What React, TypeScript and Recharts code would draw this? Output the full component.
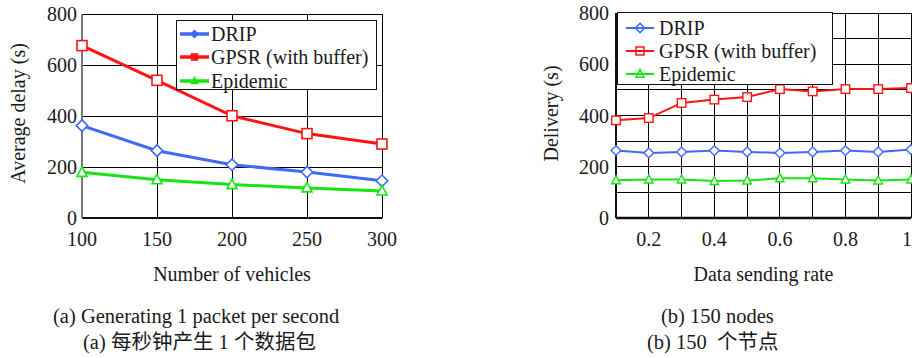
import { CartesianGrid, Legend, Line, LineChart, XAxis, YAxis } from "recharts"

// (a) average delay vs number of vehicles
const vehicles = [100, 150, 200, 250, 300]
const dripDelay = [362, 264, 209, 180, 146]
const gpsrDelay = [676, 540, 401, 331, 290]
const epidemicDelay = [179, 150, 131, 118, 106]

// (b) delivery vs data sending rate
const rates = [0.1, 0.2, 0.3, 0.4, 0.5, 0.6, 0.7, 0.8, 0.9, 1.0]
const dripDelivery = [263, 254, 258, 263, 258, 254, 258, 263, 258, 267]
const gpsrDelivery = [381, 390, 449, 462, 472, 503, 494, 503, 503, 507]
const epidemicDelivery = [147, 150, 150, 144, 146, 155, 155, 150, 146, 150]

const vehicleTicks = [100, 150, 200, 250, 300]
const rateTicks = [0.2, 0.4, 0.6, 0.8, 1]
const rateGrid = [0.1, 0.2, 0.3, 0.4, 0.5, 0.6, 0.7, 0.8, 0.9, 1]
const yTicks = [0, 200, 400, 600, 800]
const yGrid = [0, 100, 200, 300, 400, 500, 600, 700, 800]

const seriesNames = ["DRIP", "GPSR (with buffer)", "Epidemic"]

const FONT = '"Liberation Serif", "Noto Sans CJK SC", serif'
const TEXT = "#1a1a1a"
const BLUE = "#3f6af5"
const RED = "#ff1414"
const GREEN = "#14e614"

const series = [
  { key: "drip", name: seriesNames[0], color: BLUE, shape: "diamond" },
  { key: "gpsr", name: seriesNames[1], color: RED, shape: "square" },
  { key: "epidemic", name: seriesNames[2], color: GREEN, shape: "triangle" },
]

const delayData = vehicles.map((v, i) => ({
  x: v,
  drip: dripDelay[i],
  gpsr: gpsrDelay[i],
  epidemic: epidemicDelay[i],
}))

const deliveryData = rates.map((r, i) => ({
  x: r,
  drip: dripDelivery[i],
  gpsr: gpsrDelivery[i],
  epidemic: epidemicDelivery[i],
}))

const Marker = (props: any) => {
  const { cx, cy, shape, color, size = 10, sw = 1.5, fill = "none" } = props
  if (cx == null || cy == null) return null
  const h = size / 2
  if (shape === "square") {
    return <rect x={cx - h} y={cy - h} width={size} height={size} fill={fill} stroke={color} strokeWidth={sw} />
  }
  if (shape === "diamond") {
    const d = h * 1.15
    return (
      <polygon
        points={`${cx},${cy - d} ${cx + d},${cy} ${cx},${cy + d} ${cx - d},${cy}`}
        fill={fill}
        stroke={color}
        strokeWidth={sw}
      />
    )
  }
  return (
    <polygon
      points={`${cx},${cy - h * 1.1} ${cx + h},${cy + h * 0.8} ${cx - h},${cy + h * 0.8}`}
      fill={fill}
      stroke={color}
      strokeWidth={sw}
    />
  )
}

const YTitle = ({ viewBox, text, dx = 0, dy = 0 }: any) => {
  const x = viewBox.x + dx
  const y = viewBox.y + viewBox.height / 2 + dy
  return (
    <text
      x={x}
      y={y}
      transform={`rotate(-90, ${x}, ${y})`}
      textAnchor="middle"
      dominantBaseline="central"
      fontSize={20}
      fill={TEXT}
      fontFamily={FONT}
    >
      {text}
    </text>
  )
}

const XTitle = ({ viewBox, text, dy = 0 }: any) => (
  <text
    x={viewBox.x + viewBox.width / 2}
    y={viewBox.y + dy}
    textAnchor="middle"
    fontSize={20}
    fill={TEXT}
    fontFamily={FONT}
  >
    {text}
  </text>
)

const makeLegend = (opts: { sampleW: number; lineW: number; markerSize: number; filled: boolean; padTop: number; padLeft: number; rowH: number; gap: number }) => () => (
  <div
    style={{
      border: "1.5px solid #111",
      background: "#fff",
      boxSizing: "border-box",
      paddingTop: opts.padTop,
      paddingLeft: opts.padLeft,
      fontFamily: FONT,
      fontSize: 20,
      color: TEXT,
      height: "100%",
    }}
  >
    {series.map((s) => (
      <div key={s.key} style={{ display: "flex", alignItems: "center", height: opts.rowH, whiteSpace: "nowrap" }}>
        <svg width={opts.sampleW} height={16} style={{ marginRight: opts.gap }}>
          <line x1={0} y1={8} x2={opts.sampleW} y2={8} stroke={s.color} strokeWidth={opts.lineW} />
          <Marker
            cx={opts.sampleW / 2}
            cy={8}
            shape={s.shape}
            color={s.color}
            size={opts.markerSize}
            fill={opts.filled ? s.color : "none"}
          />
        </svg>
        <span style={{ lineHeight: 1 }}>{s.name}</span>
      </div>
    ))}
  </div>
)

const LeftLegend = makeLegend({ sampleW: 29, lineW: 3.5, markerSize: 6, filled: true, padTop: 1, padLeft: 3, rowH: 23.5, gap: 2 })
const RightLegend = makeLegend({ sampleW: 28, lineW: 2, markerSize: 8, filled: false, padTop: 3, padLeft: 8, rowH: 23, gap: 5 })

const tickStyle = { fontSize: 20, fill: TEXT, fontFamily: FONT }

const DelayChart = () => (
  <LineChart width={400} height={300} data={delayData} margin={{ top: 14, right: 18, bottom: 0, left: 0 }}>
    <CartesianGrid stroke="#000" strokeWidth={1} shapeRendering="crispEdges" />
    <XAxis
      type="number"
      dataKey="x"
      domain={[100, 300]}
      ticks={vehicleTicks}
      height={82}
      tickLine={false}
      tickSize={0}
      tickMargin={14}
      axisLine={{ stroke: "#111", strokeWidth: 2 }}
      tick={tickStyle}
      label={<XTitle text="Number of vehicles" dy={63} />}
    />
    <YAxis
      domain={[0, 800]}
      ticks={yTicks}
      width={82}
      tickLine={false}
      tickSize={0}
      tickMargin={5}
      axisLine={{ stroke: "#777", strokeWidth: 2 }}
      tick={tickStyle}
      label={<YTitle text="Average delay (s)" dx={18} dy={-2.5} />}
    />
    <Legend
      layout="vertical"
      align="center"
      verticalAlign="middle"
      content={LeftLegend}
      wrapperStyle={{ position: "absolute", left: 176, top: 20, width: 201, height: 70, bottom: "auto" }}
    />
    {series.map((s) => (
      <Line
        key={s.key}
        dataKey={s.key}
        name={s.name}
        stroke={s.color}
        strokeWidth={3}
        type="linear"
        isAnimationActive={false}
        dot={<Marker shape={s.shape} color={s.color} size={10} sw={1.6} />}
      />
    ))}
  </LineChart>
)

const DeliveryChart = () => (
  <LineChart width={372} height={300} data={deliveryData} margin={{ top: 13, right: 1, bottom: 0, left: 0 }}>
    <CartesianGrid stroke="#000" strokeWidth={1} shapeRendering="crispEdges" verticalValues={rateGrid} horizontalValues={yGrid} />
    <XAxis
      type="number"
      dataKey="x"
      domain={[0.1, 1]}
      ticks={rateTicks}
      tickFormatter={(v: number) => String(v)}
      height={82}
      tickLine={false}
      tickSize={0}
      tickMargin={14}
      axisLine={{ stroke: "#111", strokeWidth: 2.5 }}
      tick={tickStyle}
      label={<XTitle text="Data sending rate" dy={63} />}
    />
    <YAxis
      domain={[0, 800]}
      ticks={yTicks}
      width={76}
      tickLine={false}
      tickSize={0}
      tickMargin={7}
      axisLine={{ stroke: "#111", strokeWidth: 2 }}
      tick={tickStyle}
      label={<YTitle text="Delivery (s)" dx={11} dy={-2} />}
    />
    <Legend
      layout="vertical"
      align="center"
      verticalAlign="middle"
      content={RightLegend}
      wrapperStyle={{ position: "absolute", left: 77, top: 12, width: 216, height: 73, bottom: "auto" }}
    />
    {series.map((s) => (
      <Line
        key={s.key}
        dataKey={s.key}
        name={s.name}
        stroke={s.color}
        strokeWidth={2}
        type="linear"
        isAnimationActive={false}
        dot={<Marker shape={s.shape} color={s.color} size={8.5} sw={1.4} />}
      />
    ))}
  </LineChart>
)

const captionStyle = {
  position: "absolute" as const,
  fontFamily: FONT,
  fontSize: 20.5,
  lineHeight: "22px",
  color: TEXT,
  whiteSpace: "pre" as const,
}

export default function App() {
  return (
    <div style={{ position: "absolute", left: 0, top: 0, width: 912, height: 358, background: "#fff", overflow: "hidden" }}>
      <div style={{ position: "absolute", left: 0, top: 0 }}>
        <DelayChart />
      </div>
      <div style={{ position: "absolute", left: 540, top: 0 }}>
        <DeliveryChart />
      </div>
      <div style={{ ...captionStyle, left: 53, top: 305 }}>(a) Generating 1 packet per second</div>
      <div style={{ ...captionStyle, left: 83, top: 331 }}>(a) 每秒钟产生 1 个数据包</div>
      <div style={{ ...captionStyle, left: 661, top: 305 }}>(b) 150 nodes</div>
      <div style={{ ...captionStyle, left: 647, top: 331 }}>(b) 150  个节点</div>
    </div>
  )
}
